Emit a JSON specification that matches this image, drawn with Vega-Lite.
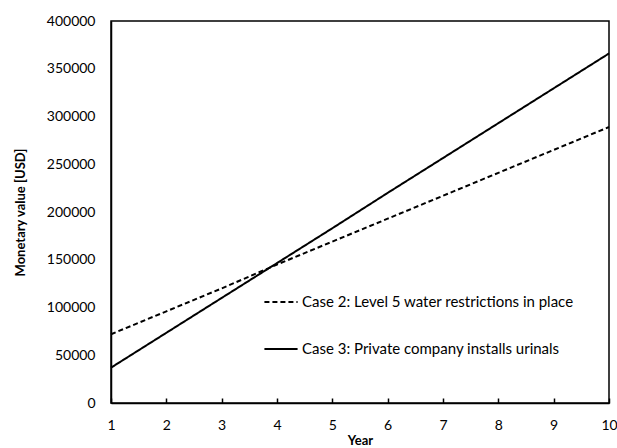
{
  "$schema": "https://vega.github.io/schema/vega-lite/v6.json",
  "autosize": "none",
  "width": 498,
  "height": 382,
  "padding": {"left": 111, "top": 21, "right": 8, "bottom": 45},
  "background": "white",
  "config": {
    "font": "Lato",
    "view": {"stroke": "#000000", "strokeWidth": 1.5},
    "axis": {"grid": false, "domainColor": "#000000", "domainWidth": 1.5, "tickColor": "#000000", "labelColor": "#000000", "titleColor": "#000000", "labelFont": "Lato", "titleFont": "Lato", "labelFontSize": 14, "titleFontSize": 13, "titleFontWeight": "bold"}
  },
  "data": {
    "values": [
      {"year": 1, "value": 72000, "case": "Case 2: Level 5 water restrictions in place"},
      {"year": 2, "value": 96000, "case": "Case 2: Level 5 water restrictions in place"},
      {"year": 3, "value": 120000, "case": "Case 2: Level 5 water restrictions in place"},
      {"year": 4, "value": 145000, "case": "Case 2: Level 5 water restrictions in place"},
      {"year": 5, "value": 169000, "case": "Case 2: Level 5 water restrictions in place"},
      {"year": 6, "value": 193000, "case": "Case 2: Level 5 water restrictions in place"},
      {"year": 7, "value": 217000, "case": "Case 2: Level 5 water restrictions in place"},
      {"year": 8, "value": 241000, "case": "Case 2: Level 5 water restrictions in place"},
      {"year": 9, "value": 265000, "case": "Case 2: Level 5 water restrictions in place"},
      {"year": 10, "value": 289000, "case": "Case 2: Level 5 water restrictions in place"},
      {"year": 1, "value": 37000, "case": "Case 3: Private company installs urinals"},
      {"year": 2, "value": 73500, "case": "Case 3: Private company installs urinals"},
      {"year": 3, "value": 110000, "case": "Case 3: Private company installs urinals"},
      {"year": 4, "value": 146500, "case": "Case 3: Private company installs urinals"},
      {"year": 5, "value": 183000, "case": "Case 3: Private company installs urinals"},
      {"year": 6, "value": 220000, "case": "Case 3: Private company installs urinals"},
      {"year": 7, "value": 256500, "case": "Case 3: Private company installs urinals"},
      {"year": 8, "value": 293000, "case": "Case 3: Private company installs urinals"},
      {"year": 9, "value": 329500, "case": "Case 3: Private company installs urinals"},
      {"year": 10, "value": 366000, "case": "Case 3: Private company installs urinals"}
    ]
  },
  "mark": {"type": "line", "color": "#000000", "strokeWidth": 2},
  "encoding": {
    "x": {"field": "year", "type": "quantitative", "scale": {"domain": [1, 10], "nice": false}, "axis": {"title": "Year", "values": [1,2,3,4,5,6,7,8,9,10], "tickSize": -5, "tickWidth": 1.5, "labelPadding": 20, "titlePadding": 2, "labelFlush": false}},
    "y": {"field": "value", "type": "quantitative", "scale": {"domain": [0, 400000], "nice": false}, "axis": {"title": "Monetary value [USD]", "values": [0,50000,100000,150000,200000,250000,300000,350000,400000], "format": "d", "ticks": false, "labelPadding": 16, "titlePadding": 19}},
    "strokeDash": {"field": "case", "type": "nominal", "scale": {"range": [[5, 3], [1, 0]]}, "legend": {"title": null, "orient": "none", "legendX": 152, "legendY": 263, "symbolType": "stroke", "symbolSize": 1100, "symbolStrokeWidth": 2, "symbolStrokeColor": "#000000", "labelFontSize": 15, "labelLimit": 0, "labelFont": "Lato", "labelColor": "#000000", "rowPadding": 21, "labelOffset": 3}}
  }
}
